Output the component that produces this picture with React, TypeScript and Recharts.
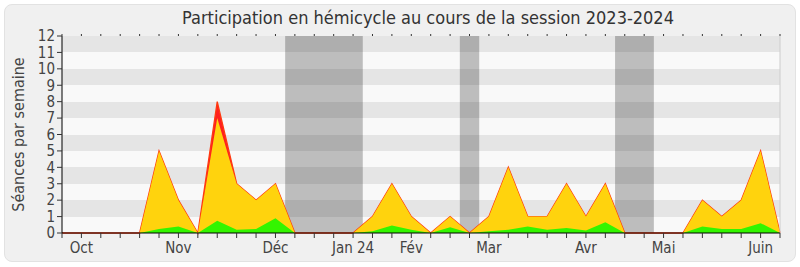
import React from 'react';
import { AreaChart, Area, XAxis, YAxis, CartesianGrid, ReferenceArea, ReferenceLine } from 'recharts';

// one point per week, Sept -> June
const totalSeances = [0, 0, 0, 0, 0, 5, 2, 0, 8, 3, 2, 3, 0, 0, 0, 0, 1, 3, 1, 0, 1, 0, 1, 4, 1, 1, 3, 1, 3, 0, 0, 0, 0, 2, 1, 2, 5, 0];
const presentSeances = [0, 0, 0, 0, 0, 5, 2, 0, 7, 3, 2, 3, 0, 0, 0, 0, 1, 3, 1, 0, 1, 0, 1, 4, 1, 1, 3, 1, 3, 0, 0, 0, 0, 2, 1, 2, 5, 0];
const interventions = [0, 0, 0, 0, 0, 0.25, 0.4, 0, 0.75, 0.2, 0.25, 0.9, 0, 0, 0, 0, 0.1, 0.45, 0.2, 0, 0.35, 0, 0.1, 0.2, 0.4, 0.2, 0.3, 0.15, 0.65, 0, 0, 0, 0, 0.4, 0.25, 0.25, 0.6, 0];

const monthLabels: Record<number, string> = {
  1: 'Oct', 6: 'Nov', 11: 'Déc', 15: 'Jan 24', 18: 'Fév', 22: 'Mar', 27: 'Avr', 31: 'Mai', 36: 'Juin',
};

// vacances (en semaines)
const vacances = [
  [11.5, 15.5],
  [20.5, 21.5],
  [28.5, 30.5],
];

const yTicks = [0, 1, 2, 3, 4, 5, 6, 7, 8, 9, 10, 11, 12];

const data = totalSeances.map((t, i) => ({
  week: i,
  total: t,
  present: presentSeances[i],
  interv: interventions[i],
}));

const weekTicks = data.map((d) => d.week);
const font = '"DejaVu Sans Condensed", "Liberation Sans Narrow", "DejaVu Sans", sans-serif';

export default function App() {
  return (
    <div style={{ position: 'absolute', left: 0, top: 0, width: 800, height: 267, background: '#fff', fontFamily: font }}>
      <div
        style={{
          position: 'absolute', left: 4, top: 4, width: 790, height: 256,
          background: '#f0f0f0', border: '1px solid #e2e2e2', borderRadius: 8,
        }}
      />
      <div style={{ position: 'absolute', left: 28, top: 7, width: 800, textAlign: 'center', fontSize: 18, color: '#333' }}>
        Participation en hémicycle au cours de la session 2023-2024
      </div>
      <div style={{ position: 'absolute', left: 0, top: 0 }}>
        <AreaChart width={800} height={267} data={data} margin={{ top: 33, right: 20, bottom: 4, left: 0 }}>
          <CartesianGrid
            vertical={false}
            horizontalFill={['#e5e5e5', '#f9f9f9']}
            stroke="none"
          />
          {vacances.map(([a, b], i) => (
            <ReferenceArea key={i} x1={a} x2={b} fill="#000" fillOpacity={0.24} stroke="none" ifOverflow="hidden" />
          ))}
          <XAxis
            dataKey="week"
            type="number"
            domain={[0, 37]}
            ticks={weekTicks}
            interval={0}
            tickFormatter={(v: number) => monthLabels[v] ?? ''}
            tick={{ fill: '#444', fontSize: 15, fontFamily: font, dy: 2 }}
            tickSize={5}
            tickLine={{ stroke: '#333' }}
            axisLine={{ stroke: '#000' }}
            height={30}
          />
          <XAxis
            xAxisId="top"
            dataKey="week"
            type="number"
            orientation="top"
            domain={[0, 37]}
            ticks={weekTicks}
            interval={0}
            tickFormatter={() => ''}
            tickSize={2}
            tickLine={{ stroke: '#333' }}
            axisLine={false}
            height={3}
          />
          <YAxis
            domain={[0, 12]}
            ticks={yTicks}
            interval={0}
            tick={{ fill: '#444', fontSize: 15, fontFamily: font }}
            tickSize={5}
            tickLine={{ stroke: '#333' }}
            axisLine={{ stroke: '#000' }}
            width={62}
            label={{
              value: 'Séances par semaine', angle: -90, position: 'insideLeft', offset: 18,
              style: { textAnchor: 'middle', fill: '#444', fontSize: 16, fontFamily: font },
            }}
          />
          <ReferenceLine x={37} stroke="#cccccc" />
          <Area type="linear" dataKey="total" stroke="#ff3a10" strokeWidth={1.3} fill="#ff1f1f" fillOpacity={1} isAnimationActive={false} dot={false} activeDot={false} />
          <Area type="linear" dataKey="present" stroke="none" fill="#ffd30d" fillOpacity={1} isAnimationActive={false} dot={false} activeDot={false} />
          <Area type="linear" dataKey="interv" stroke="none" fill="#33f500" fillOpacity={1} isAnimationActive={false} dot={false} activeDot={false} />
        </AreaChart>
      </div>
    </div>
  );
}
